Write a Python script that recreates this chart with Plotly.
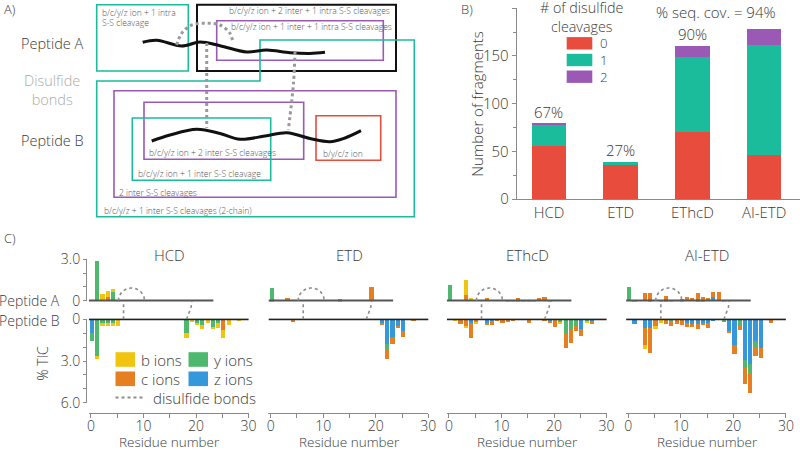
import numpy as np
import plotly.graph_objects as go

# ---------------- Panel B data ----------------
methods = ["HCD", "ETD", "EThcD", "AI-ETD"]
frag_0_cleav = [56, 36, 70, 46]
frag_1_cleav = [22, 3, 79, 115]
frag_2_cleav = [1, 0, 11, 17]
seq_coverage = [67, 27, 90, 94]

# ---------------- Panel C data (%TIC per residue, sparse) ----------------
PEP_A_LEN = 23
PEP_B_LEN = 30
# disulfide bonds (residue index)
DS_INTRA_A = [5, 10]
DS_INTER_A = [6, 19]
DS_INTER_B = [6, 18]

HCD_A_b_pos = [2, 3, 4, 5];            HCD_A_b_val = [0.5, 0.38, 0.25, 0.05]
HCD_A_c_pos = [3];                     HCD_A_c_val = [0.3]
HCD_A_y_pos = [1, 4];                  HCD_A_y_val = [2.85, 0.6]
HCD_A_z_pos = [];                      HCD_A_z_val = []
HCD_B_b_pos = [1, 2, 3, 4, 5, 18, 19, 20, 21, 22, 23, 24, 25, 26, 28]
HCD_B_b_val = [0.2, 0.23, 0.23, 0.23, 0.48, 0.29, 0.2, 0.1, 0.33, 0.24, 0.07, 0.3, 0.58, 0.43, 0.05]
HCD_B_c_pos = [25];                    HCD_B_c_val = [0.78]
HCD_B_y_pos = [0, 1, 2, 3, 4, 18, 20, 21, 23, 24]
HCD_B_y_val = [0.55, 2.66, 0.25, 0.25, 0.25, 1.02, 0.25, 0.4, 0.53, 0.3]
HCD_B_z_pos = [0];                     HCD_B_z_val = [1.0]

ETD_A_b_pos = [];                      ETD_A_b_val = []
ETD_A_c_pos = [3, 13, 19];             ETD_A_c_val = [0.2, 0.1, 1.0]
ETD_A_y_pos = [0];                     ETD_A_y_val = [0.9]
ETD_A_z_pos = [0];                     ETD_A_z_val = [0.05]
ETD_B_b_pos = [];                      ETD_B_b_val = []
ETD_B_c_pos = [4, 21, 22, 23, 24, 25, 27]
ETD_B_c_val = [0.19, 0.15, 0.68, 0.41, 0.19, 0.39, 0.1]
ETD_B_y_pos = [22, 23];                ETD_B_y_val = [0.39, 0.05]
ETD_B_z_pos = [21, 22, 23, 24, 25];    ETD_B_z_val = [0.24, 1.79, 1.31, 0.46, 0.87]

EThcD_A_b_pos = [3, 4];                EThcD_A_b_val = [1.09, 0.03]
EThcD_A_c_pos = [3, 4, 7, 11, 12, 13, 14, 15, 16, 17, 18, 19]
EThcD_A_c_val = [0.41, 0.15, 0.17, 0.03, 0.03, 0.12, 0.05, 0.05, 0.06, 0.22, 0.27, 0.03]
EThcD_A_y_pos = [0, 13];               EThcD_A_y_val = [1.14, 0.05]
EThcD_A_z_pos = [];                    EThcD_A_z_val = []
EThcD_B_b_pos = [1, 3, 5, 21, 26];     EThcD_B_b_val = [0.15, 0.05, 0.05, 0.05, 0.08]
EThcD_B_c_pos = [2, 3, 4, 5, 7, 8, 9, 10, 11, 12, 15, 18, 19, 20, 22, 23, 24, 25, 27]
EThcD_B_c_val = [0.34, 0.48, 1.11, 0.2, 0.15, 0.34, 0.15, 0.29, 0.15, 0.08, 0.24, 0.05, 0.1, 0.5,
                 1.06, 0.94, 0.39, 0.53, 0.24]
EThcD_B_y_pos = [11, 21, 22, 23, 24, 26]
EThcD_B_y_val = [0.05, 0.2, 1.02, 0.73, 0.48, 0.1]
EThcD_B_z_pos = [4, 7, 8, 19, 20, 25, 27]
EThcD_B_z_val = [0.24, 0.29, 0.1, 0.15, 0.05, 0.68, 0.1]

AIETD_A_b_pos = [];                    AIETD_A_b_val = []
AIETD_A_c_pos = [3, 4, 6, 7, 8, 10, 11, 12, 13, 14, 15, 16, 17, 18]
AIETD_A_c_val = [0.58, 0.48, 0.07, 0.27, 0.04, 0.1, 0.29, 0.19, 0.43, 0.21, 0.19, 0.41, 0.6, 0.04]
AIETD_A_y_pos = [0];                   AIETD_A_y_val = [1.0]
AIETD_A_z_pos = [1, 4, 7, 13, 14, 16]; AIETD_A_z_val = [0.03, 0.1, 0.1, 0.1, 0.08, 0.24]
AIETD_B_b_pos = [3, 5, 6];             AIETD_B_b_val = [0.27, 0.24, 0.24]
AIETD_B_c_pos = [3, 4, 5, 7, 8, 9, 10, 11, 12, 13, 14, 15, 19, 20, 21, 22, 23, 24, 25, 27]
AIETD_B_c_val = [1.26, 1.82, 0.48, 0.34, 0.36, 0.34, 0.39, 0.29, 0.24, 0.34, 0.15, 0.36, 0.19, 0.58,
                 0.34, 1.16, 1.4, 0.68, 0.77, 0.29]
AIETD_B_y_pos = [8, 18, 20, 21, 22, 23, 24]
AIETD_B_y_val = [0.15, 0.19, 0.05, 0.44, 0.53, 0.63, 0.44]
AIETD_B_z_pos = [1, 3, 4, 11, 12, 13, 14, 15, 16, 19, 20, 22, 23, 24, 25]
AIETD_B_z_val = [0.31, 0.6, 0.6, 0.29, 0.34, 0.34, 0.29, 0.29, 0.05, 0.82, 1.89, 2.95, 3.24, 1.55, 2.03]

# table built from the arrays above
panelC = {
    "HCD": {"A": {"z": (HCD_A_z_pos, HCD_A_z_val), "y": (HCD_A_y_pos, HCD_A_y_val),
                  "c": (HCD_A_c_pos, HCD_A_c_val), "b": (HCD_A_b_pos, HCD_A_b_val)},
            "B": {"z": (HCD_B_z_pos, HCD_B_z_val), "y": (HCD_B_y_pos, HCD_B_y_val),
                  "c": (HCD_B_c_pos, HCD_B_c_val), "b": (HCD_B_b_pos, HCD_B_b_val)}},
    "ETD": {"A": {"z": (ETD_A_z_pos, ETD_A_z_val), "y": (ETD_A_y_pos, ETD_A_y_val),
                  "c": (ETD_A_c_pos, ETD_A_c_val), "b": (ETD_A_b_pos, ETD_A_b_val)},
            "B": {"z": (ETD_B_z_pos, ETD_B_z_val), "y": (ETD_B_y_pos, ETD_B_y_val),
                  "c": (ETD_B_c_pos, ETD_B_c_val), "b": (ETD_B_b_pos, ETD_B_b_val)}},
    "EThcD": {"A": {"z": (EThcD_A_z_pos, EThcD_A_z_val), "y": (EThcD_A_y_pos, EThcD_A_y_val),
                    "c": (EThcD_A_c_pos, EThcD_A_c_val), "b": (EThcD_A_b_pos, EThcD_A_b_val)},
              "B": {"z": (EThcD_B_z_pos, EThcD_B_z_val), "y": (EThcD_B_y_pos, EThcD_B_y_val),
                    "c": (EThcD_B_c_pos, EThcD_B_c_val), "b": (EThcD_B_b_pos, EThcD_B_b_val)}},
    "AI-ETD": {"A": {"z": (AIETD_A_z_pos, AIETD_A_z_val), "y": (AIETD_A_y_pos, AIETD_A_y_val),
                     "c": (AIETD_A_c_pos, AIETD_A_c_val), "b": (AIETD_A_b_pos, AIETD_A_b_val)},
               "B": {"z": (AIETD_B_z_pos, AIETD_B_z_val), "y": (AIETD_B_y_pos, AIETD_B_y_val),
                     "c": (AIETD_B_c_pos, AIETD_B_c_val), "b": (AIETD_B_b_pos, AIETD_B_b_val)}},
}

# ---------------- styles ----------------
W, H = 800, 451
FONT = "Open Sans"
WEIGHT = 300
TXT = "#3a3a3a"
AXC = "#8a8a8a"
RED, TEAL, PURPLE = "#E74C3C", "#1ABC9C", "#9B59B6"
ION_COL = {"b": "#F1C40F", "c": "#E67E22", "y": "#4DB86E", "z": "#3498DB"}
ION_ORDER = ["z", "y", "c", "b"]
SHIFT = 0.2  # bar centre offset from residue index


def fx(px):
    return px / W


def fy(py):
    return 1 - py / H


def font(size, color=TXT):
    return dict(family=FONT, size=size, color=color, weight=WEIGHT)


fig = go.Figure()
annotations = []
shapes = []


def ann(text, x, y, size=14, color=TXT, xanchor="center", yanchor="middle", angle=0, xref="paper",
        yref="paper", align="center"):
    if xref == "paper":
        x = fx(x)
    if yref == "paper":
        y = fy(y)
    annotations.append(dict(text=text, x=x, y=y, xref=xref, yref=yref, showarrow=False,
                            xanchor=xanchor, yanchor=yanchor, textangle=angle, align=align,
                            font=font(size, color)))


# ================= Panel B =================
for vals, col in [(frag_0_cleav, RED), (frag_1_cleav, TEAL), (frag_2_cleav, PURPLE)]:
    fig.add_trace(go.Bar(x=methods, y=vals, marker=dict(color=col, line=dict(width=0)),
                         width=0.48, xaxis="x", yaxis="y", showlegend=False))

totals = [a + b + c for a, b, c in zip(frag_0_cleav, frag_1_cleav, frag_2_cleav)]
for i, (m, tot, cov) in enumerate(zip(methods, totals, seq_coverage)):
    if i == len(methods) - 1:
        annotations.append(dict(text=f"% seq. cov. = {cov}%", x=3.19, y=tot, xref="x", yref="y",
                                showarrow=False, xanchor="right", yanchor="bottom", yshift=5,
                                font=font(15)))
    else:
        annotations.append(dict(text=f"{cov}%", x=m, y=tot, xref="x", yref="y",
                                showarrow=False, xanchor="center", yanchor="bottom", yshift=0,
                                font=font(15)))

# legend of panel B
ann("# of disulfide<br>cleavages", 581, 17, size=14.3)
leg_labels = ["0", "1", "2"]
for k, col in enumerate([RED, TEAL, PURPLE]):
    yc = 43.3 + 16.7 * k
    shapes.append(dict(type="rect", xref="paper", yref="paper", x0=fx(566.7), x1=fx(592.3),
                       y0=fy(yc + 6.2), y1=fy(yc - 6.2), fillcolor=col, line=dict(width=0)))
ann("<br>".join(leg_labels), 598, 60, size=13.2, xanchor="left", align="left")

ann("Number of fragments", 477, 103.7, size=15, angle=-90)

# ================= Panel C =================
lefts = [88.6, 268.3, 446.6, 625.9]
WID = 160.0
XR = [-0.45, 30.0]
unit = WID / (XR[1] - XR[0])

layout_axes = {}
for i, m in enumerate(methods):
    xa, xb, yc_ = i + 2, i + 6, i + 10
    dom = [fx(lefts[i]), fx(lefts[i] + WID)]
    # bars
    for pep, xn, yn in [("A", xa, xa), ("B", xb, xb)]:
        for ion in ION_ORDER:
            pos, val = panelC[m][pep][ion]
            fig.add_trace(go.Bar(x=pos, y=val, width=0.8, offset=-0.2,
                                 marker=dict(color=ION_COL[ion], line=dict(width=0)),
                                 xaxis=f"x{xn}", yaxis=f"y{yn}", showlegend=False))
    # peptide baselines
    fig.add_trace(go.Scatter(x=[-0.4, PEP_A_LEN + 0.3], y=[0, 0], mode="lines",
                             line=dict(color="#555555", width=2.5),
                             xaxis=f"x{xa}", yaxis=f"y{xa}", showlegend=False))
    fig.add_trace(go.Scatter(x=[-0.4, PEP_B_LEN + 0.3], y=[0, 0], mode="lines",
                             line=dict(color="#222222", width=2),
                             xaxis=f"x{xb}", yaxis=f"y{xb}", showlegend=False))
    # intra-chain disulfide arc on peptide A
    c0, c1 = DS_INTRA_A[0] + SHIFT, DS_INTRA_A[1] + SHIFT
    t = np.linspace(0, np.pi, 40)
    fig.add_trace(go.Scatter(x=(c0 + c1) / 2 - (c1 - c0) / 2 * np.cos(t), y=0.92 * np.sin(t),
                             mode="lines", line=dict(color="#8c8c8c", width=1.6, dash="dot"),
                             xaxis=f"x{xa}", yaxis=f"y{xa}", showlegend=False))
    # inter-chain disulfide connectors
    for a_res, b_res in zip(DS_INTER_A, DS_INTER_B):
        tt = np.linspace(0, 1, 20)
        xs = (b_res + SHIFT) + (a_res - b_res) * np.sin(tt * np.pi / 2)
        fig.add_trace(go.Scatter(x=xs, y=tt, mode="lines",
                                 line=dict(color="#8c8c8c", width=1.6, dash="dot"),
                                 xaxis=f"x{xb}", yaxis=f"y{yc_}", showlegend=False))

    layout_axes[f"xaxis{xa}"] = dict(domain=dom, range=XR, visible=False, anchor=f"y{xa}")
    layout_axes[f"xaxis{xb}"] = dict(domain=dom, range=XR, anchor="free", position=fy(412.7),
                                     showline=True, linecolor=AXC, linewidth=1, showgrid=False,
                                     zeroline=False, tickvals=[0, 10, 20, 30], ticks="outside",
                                     ticklen=4, tickcolor=AXC, ticklabelstandoff=-4,
                                     minor=dict(tickvals=[5, 15, 25], ticks="outside", ticklen=4,
                                                tickcolor=AXC),
                                     tickfont=font(14))
    ya = dict(domain=[fy(301.4), fy(258.6)], range=[-0.05, 3.05], showgrid=False, zeroline=False)
    yb = dict(domain=[fy(402.7), fy(318.6)], range=[6.0, -0.05], showgrid=False, zeroline=False)
    if i == 0:
        common = dict(anchor="free", position=fx(86), showline=True, linecolor=AXC, linewidth=1,
                      ticks="outside", ticklen=3, tickcolor=AXC, tickfont=font(14))
        ya.update(common, tickvals=[0, 1, 2, 3], ticktext=["0", "", "", "3.0"])
        yb.update(common, tickvals=[0, 1, 2, 3, 4, 5, 6], ticktext=["0", "", "", "3.0", "", "", "6.0"])
    else:
        ya.update(visible=False, anchor=f"x{xa}")
        yb.update(visible=False, anchor=f"x{xb}")
    layout_axes[f"yaxis{xa}"] = ya
    layout_axes[f"yaxis{xb}"] = yb
    layout_axes[f"yaxis{yc_}"] = dict(domain=[fy(319.3), fy(300.7)], range=[0, 1], visible=False,
                                      anchor=f"x{xb}")

    zero_px = lefts[i] - XR[0] * unit
    ann(m, zero_px + 15 * unit, 255.3, size=15)
    ann("Residue number", zero_px + 15 * unit, 442.3, size=13.5)

ann("Peptide A", 62, 300.7, size=14, xanchor="right")
ann("Peptide B", 62, 320.0, size=14, xanchor="right")
ann("% TIC", 41.7, 363, size=14, angle=-90)

# legend of panel C
for lab, col, x0, yc in [("b ions", ION_COL["b"], 115.5, 359.5), ("y ions", ION_COL["y"], 188.5, 359.5),
                         ("c ions", ION_COL["c"], 115.5, 378.8), ("z ions", ION_COL["z"], 188.5, 378.8)]:
    shapes.append(dict(type="rect", xref="paper", yref="paper", x0=fx(x0), x1=fx(x0 + 19.5),
                       y0=fy(yc + 7.3), y1=fy(yc - 7.3), fillcolor=col, line=dict(width=0)))
    ann(lab, x0 + 23.5, yc, size=15, xanchor="left")
shapes.append(dict(type="line", xref="paper", yref="paper", x0=fx(115.5), x1=fx(144), y0=fy(397.5),
                   y1=fy(397.5), line=dict(color="#8c8c8c", width=2, dash="dot")))
ann("disulfide bonds", 150.5, 397.5, size=15, xanchor="left")

# ================= Panel A (schematic, pixel-unit axis) =================
SX, SY = "x14", "y14"
wave_A_x = [142.7, 156.7, 181.7, 200, 220, 246.7, 266.7, 290, 310, 325]
wave_A_y = [42.3, 40.3, 46, 42, 45.7, 52, 50, 52.7, 53.5, 52.3]
wave_B_x = [151.7, 170, 196.7, 220, 240, 265, 287, 310, 330, 345, 361]
wave_B_y = [141, 135, 129.3, 133.5, 139.3, 136, 132.7, 138.5, 141.7, 138, 130.7]
for wx, wy in [(wave_A_x, wave_A_y), (wave_B_x, wave_B_y)]:
    fig.add_trace(go.Scatter(x=wx, y=wy, mode="lines", line=dict(color="#111111", width=3, shape="spline"),
                             xaxis=SX, yaxis=SY, showlegend=False))
DOT = dict(color="#9a9a9a", width=3, dash="3px,3px")
fig.add_trace(go.Scatter(x=[176.7, 181.7, 191.7, 206.7, 220, 230, 232.7],
                         y=[45, 33.3, 25, 23.3, 25, 33.3, 41.7], mode="lines",
                         line=dict(DOT, shape="spline"), xaxis=SX, yaxis=SY, showlegend=False))
fig.add_trace(go.Scatter(x=[206.7, 206.7], y=[43, 127.7], mode="lines", line=DOT,
                         xaxis=SX, yaxis=SY, showlegend=False))
fig.add_trace(go.Scatter(x=[295, 293.5, 288.3], y=[51.7, 83, 130], mode="lines",
                         line=dict(DOT, shape="spline"), xaxis=SX, yaxis=SY, showlegend=False))

boxes = [
    (96.7, 4.7, 188.3, 71, TEAL, 1.6),
    (197, 4.7, 396, 71, "#111111", 2),
    (216.7, 20.7, 383.3, 60.3, PURPLE, 1.6),
    (114, 90.7, 396, 197.3, PURPLE, 1.6),
    (144, 102.3, 303.7, 159.3, PURPLE, 1.6),
    (132.3, 118, 270.7, 180.3, TEAL, 1.6),
    (316, 115.7, 380.7, 160.3, RED, 1.6),
]
for x0, y0, x1, y1, col, lw in boxes:
    shapes.append(dict(type="rect", xref=SX, yref=SY, x0=x0, y0=y0, x1=x1, y1=y1,
                       line=dict(color=col, width=lw), fillcolor="rgba(0,0,0,0)", layer="below"))
shapes.append(dict(type="path", xref=SX, yref=SY,
                   path="M 96.7 81 L 260 81 L 260 40 L 414.3 40 L 414.3 216.7 L 96.7 216.7 Z",
                   line=dict(color=TEAL, width=1.6), fillcolor="rgba(0,0,0,0)", layer="below"))

SCH_TXT = "#555555"
for text, x, y, xa_ in [
    ("b/c/y/z ion + 1 intra", 100, 12.3, "left"),
    ("S-S cleavage", 100, 22.3, "left"),
    ("b/c/y/z ion + 2 inter + 1 intra S-S cleavages", 392, 10.7, "right"),
    ("b/c/y/z ion + 1 inter + 1 intra S-S cleavages", 229, 26.3, "left"),
    ("b/c/y/z + 1 inter S-S cleavages (2-chain)", 101.7, 210, "left"),
    ("2 inter S-S cleavages", 116.7, 192, "left"),
    ("b/c/y/z ion + 2 inter S-S cleavages", 146.7, 152.3, "left"),
    ("b/c/y/z ion + 1 inter S-S cleavage", 135.7, 173.3, "left"),
    ("b/y/c/z ion", 320.7, 153.3, "left"),
]:
    ann(text, x, y, size=8.5, color=SCH_TXT, xanchor=xa_, xref=SX, yref=SY)

ann("Peptide A", 19, 44, size=14.5, xanchor="left")
ann("Peptide B", 19, 140.3, size=14.5, xanchor="left")
ann("Disulfide<br>bonds", 51.7, 90.4, size=14.5, color="#ababab")

# panel letters
ann("A)", 2, 9, size=13, xanchor="left")
ann("B)", 459, 9, size=13, xanchor="left")
ann("C)", 2, 238, size=13, xanchor="left")

fig.update_layout(
    width=W, height=H, margin=dict(l=0, r=0, t=0, b=0, autoexpand=False),
    paper_bgcolor="white", plot_bgcolor="rgba(0,0,0,0)",
    barmode="stack", showlegend=False,
    font=font(14),
    xaxis=dict(domain=[fx(516.7), 1.0], range=[-0.45, 3.5], type="category", showline=True,
               linecolor=AXC, linewidth=1, ticks="", showgrid=False, zeroline=False, automargin=False,
               tickfont=font(15), anchor="y"),
    yaxis=dict(domain=[fy(199), fy(8.3)], range=[0, 200], tickvals=[0, 50, 100, 150, 200],
               ticks="outside", ticklen=4, tickcolor=AXC, showline=True, linecolor=AXC,
               linewidth=1, showgrid=False, zeroline=False, automargin=False,
               minor=dict(tickvals=[25, 75, 125, 175], ticks="outside", ticklen=3, tickcolor=AXC),
               tickfont=font(15), anchor="x"),
    xaxis14=dict(domain=[0, fx(424)], range=[0, 424], visible=False, anchor="y14"),
    yaxis14=dict(domain=[fy(220), 1], range=[220, 0], visible=False, anchor="x14"),
    annotations=annotations, shapes=shapes,
)
for k in layout_axes:
    layout_axes[k]["automargin"] = False
fig.update_layout(**layout_axes)

fig.write_html("out.html", config={"displayModeBar": False},
               post_script="document.body.style.margin='0px';")
